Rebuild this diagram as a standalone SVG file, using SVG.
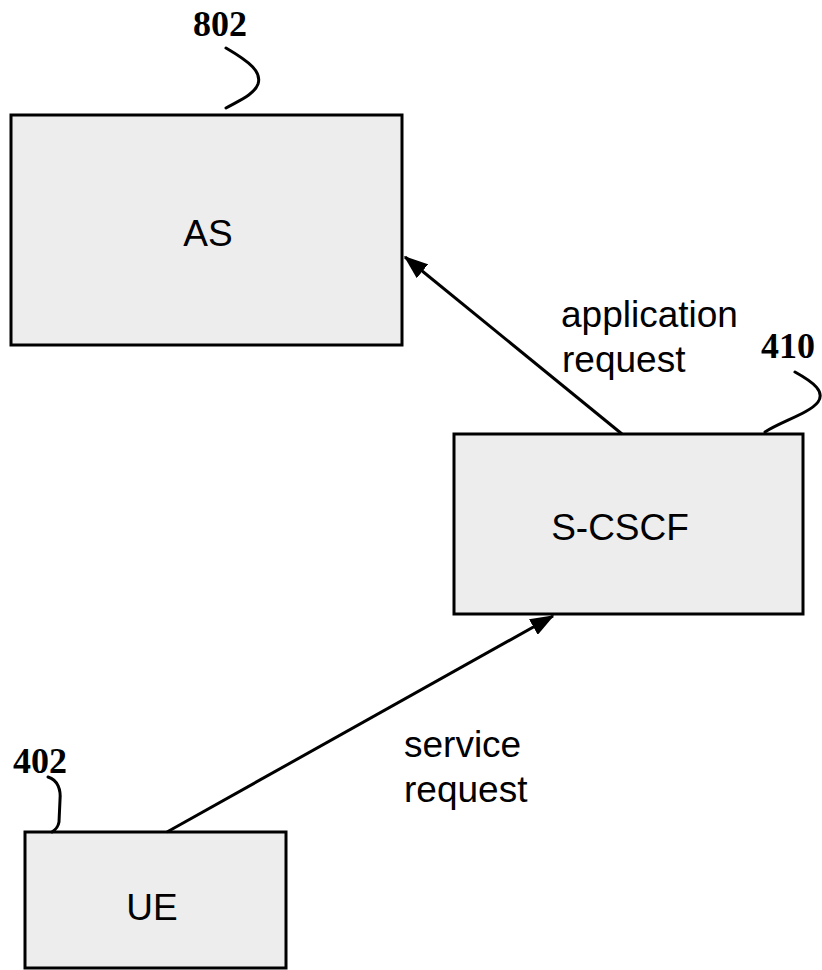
<svg xmlns="http://www.w3.org/2000/svg" width="822" height="970" viewBox="0 0 822 970">
<style>
.box{fill:#ededed;stroke:#000;stroke-width:3}
.lbl{font-family:"Liberation Sans",Arial,sans-serif;font-size:37px;fill:#000}
.ref{font-family:"Liberation Serif","Times New Roman",serif;font-size:36px;font-weight:bold;fill:#000}
.lead{fill:none;stroke:#000;stroke-width:3;stroke-linecap:round}
.conn{fill:none;stroke:#000;stroke-width:3;marker-end:url(#ah)}
</style>
<defs>
<marker id="ah" markerWidth="8" markerHeight="6" refX="7.5" refY="3" orient="auto" markerUnits="strokeWidth">
<path d="M0,0 L8,3 L0,6 Z" fill="#000"/>
</marker>
</defs>
<rect width="822" height="970" fill="#fff"/>
<g id="node-as">
<rect class="box" x="11" y="115" width="391" height="230"/>
<text class="lbl" x="208" y="246" text-anchor="middle">AS</text>
<path class="lead" d="M226,48 C250,62 262,72 258,84 C254,95 238,101 226,108"/>
<text class="ref" x="220" y="36" text-anchor="middle">802</text>
</g>
<g id="node-scscf">
<rect class="box" x="454" y="434" width="349" height="180"/>
<text class="lbl" x="620" y="540" text-anchor="middle">S-CSCF</text>
<path class="lead" d="M795,372 C815,383 825,392 818,402 C810,413 780,422 765,432"/>
<text class="ref" x="788" y="358" text-anchor="middle">410</text>
</g>
<g id="node-ue">
<rect class="box" x="25" y="832" width="261" height="136"/>
<text class="lbl" x="152" y="920" text-anchor="middle">UE</text>
<path class="lead" d="M48,777 C58,780 61,790 60,800 L59,822 C58,828 55,830 52,832"/>
<text class="ref" x="40" y="773" text-anchor="middle">402</text>
</g>
<g id="connectors">
<line class="conn" x1="622" y1="434" x2="405" y2="257"/>
<line class="conn" x1="167" y1="832" x2="553" y2="616"/>
<text class="lbl" x="561" y="327">application</text>
<text class="lbl" x="562" y="372">request</text>
<text class="lbl" x="404" y="757">service</text>
<text class="lbl" x="404" y="802">request</text>
</g>
</svg>
